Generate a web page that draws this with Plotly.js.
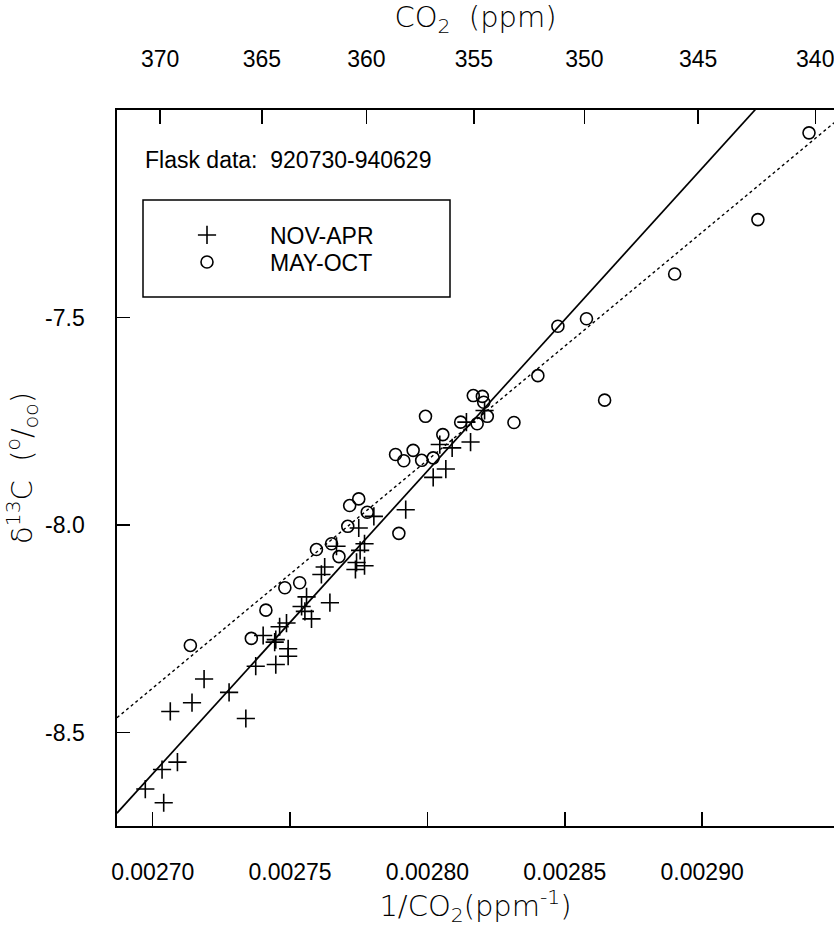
<!DOCTYPE html>
<html><head><meta charset="utf-8">
<script src="https://cdn.plot.ly/plotly-3.0.1.min.js"></script>
<style>html,body{margin:0;padding:0;background:#fff;} #chart{width:834px;height:931px;}</style>
</head><body><div id="chart"></div>
<script>
// NOV-APR flask samples (1/CO2 in ppm^-1, delta13C in per mil)
const novAprX = [0.0028142,0.0028208,0.0028045,0.0028090,0.0028157,0.0028067,0.0028021,0.0027921,0.0027805,0.0027750,
  0.0027771,0.0027755,0.0027742,0.0027771,0.0027738,0.0027669,0.0027626,0.0027614,0.0027560,0.0027645,
  0.0027542,0.0027554,0.0027578,0.0027487,0.0027462,0.0027402,0.0027448,0.0027444,0.0027493,0.0027493,
  0.0027448,0.0027375,0.0027187,0.0027278,0.0027143,0.0027064,0.0027339,0.0027090,0.0027034,0.0026973,0.0027040];
const novAprY = [-7.752,-7.724,-7.806,-7.814,-7.800,-7.865,-7.885,-7.963,-7.979,-8.007,
  -8.045,-8.061,-8.090,-8.098,-8.107,-8.051,-8.101,-8.119,-8.173,-8.187,
  -8.196,-8.208,-8.226,-8.236,-8.245,-8.266,-8.276,-8.282,-8.298,-8.316,
  -8.336,-8.340,-8.371,-8.403,-8.428,-8.449,-8.466,-8.571,-8.589,-8.636,-8.669];
// MAY-OCT flask samples
const mayOctX = [0.0029389,0.0029203,0.0028900,0.0028579,0.0028475,0.0028402,0.0028645,0.0028315,0.0028167,0.0028200,
  0.0028205,0.0027993,0.0028218,0.0028121,0.0028181,0.0028056,0.0027884,0.0027948,0.0027914,0.0027979,
  0.0028021,0.0027750,0.0027717,0.0027781,0.0027710,0.0027896,0.0027678,0.0027596,0.0027651,0.0027481,
  0.0027535,0.0027412,0.0027359,0.0027137];
const mayOctY = [-7.055,-7.264,-7.395,-7.503,-7.521,-7.640,-7.699,-7.753,-7.688,-7.690,
  -7.704,-7.738,-7.738,-7.752,-7.756,-7.782,-7.830,-7.820,-7.845,-7.844,
  -7.838,-7.937,-7.953,-7.969,-8.003,-8.020,-8.076,-8.059,-8.045,-8.151,
  -8.139,-8.205,-8.273,-8.290];
// fitted lines, read at the two plot edges
const fitX = [0.002687, 0.002948];
const fitNovAprY = [-8.694, -6.790];
const fitMayOctY = [-8.464, -7.031];
// axis ticks
const xTickVals = [0.00270, 0.00275, 0.00280, 0.00285, 0.00290];
const co2TickLabels = [370, 365, 360, 355, 350, 345, 340];
const yTickVals = [-8.5, -8.0, -7.5];
const yTickText = ['-8.5', '-8.0', '-7.5'];

const xRange = [0.002687, 0.002948];
const yRange = [-8.725, -7.0];
const tickFont = {family: 'Liberation Sans, Arial, sans-serif', size: 23, color: '#000'};
const titleFont = {family: 'DejaVu Sans, sans-serif', size: 29, color: '#000', weight: 200};

const traces = [
  {x: fitX, y: fitNovAprY, mode: 'lines', line: {color: '#000', width: 1.7}, showlegend: false, hoverinfo: 'skip'},
  {x: fitX, y: fitMayOctY, xaxis: 'x2', mode: 'lines', line: {color: '#000', width: 1.4, dash: 'dot'}, showlegend: false, hoverinfo: 'skip'},
  {x: novAprX, y: novAprY, mode: 'markers', name: 'NOV-APR', legend: 'legend',
   marker: {symbol: 'cross-thin-open', size: 13, color: '#000', line: {color: '#000', width: 1.6}}},
  {x: mayOctX, y: mayOctY, mode: 'markers', name: 'MAY-OCT', legend: 'legend2',
   marker: {symbol: 'circle-open', size: 12, color: '#000', line: {color: '#000', width: 1.6}}}
];

const P = (px) => (px - 117) / 717;
const Q = (py) => 1 - (py - 110) / 716;

const legendCommon = {bgcolor: 'rgba(0,0,0,0)', borderwidth: 0, font: {family: 'Liberation Sans, Arial, sans-serif', size: 23, color: '#000'},
  xanchor: 'left', yanchor: 'middle', itemwidth: 116, itemsizing: 'trace'};

const layout = {
  width: 834, height: 931,
  margin: {l: 117, r: 0, t: 110, b: 105, pad: 0},
  paper_bgcolor: '#fff', plot_bgcolor: '#fff',
  font: tickFont,
  showlegend: true,
  xaxis: {range: xRange, tickvals: xTickVals, tickformat: '.5f', ticks: 'inside', ticklen: 14, tickwidth: 1.5, tickcolor: '#000',
    showline: true, linecolor: '#000', linewidth: 2, showgrid: false, zeroline: false, ticklabelstandoff: 24, tickfont: tickFont,
    ticklabeloverflow: 'allow',
    title: {text: '1/CO<sub>2</sub>(ppm<sup>-1</sup>)', font: titleFont, standoff: 12}},
  xaxis2: {overlaying: 'x', side: 'top', anchor: 'y', range: xRange, tickvals: co2TickLabels.map(c => 1 / c), ticktext: co2TickLabels.map(String),
    ticks: 'inside', ticklen: 14, tickwidth: 1.5, tickcolor: '#000', showline: true, linecolor: '#000', linewidth: 2,
    showgrid: false, zeroline: false, ticklabelstandoff: 32, tickfont: tickFont, ticklabeloverflow: 'allow',
    title: {text: 'CO<sub>2</sub>  (ppm)', font: titleFont, standoff: 10}},
  yaxis: {range: yRange, tickvals: yTickVals, ticktext: yTickText, ticks: 'inside', ticklen: 13, tickwidth: 1.5, tickcolor: '#000',
    showline: true, linecolor: '#000', linewidth: 1.7, showgrid: false, zeroline: false, ticklabelstandoff: 26, tickfont: tickFont,
    ticklabeloverflow: 'allow',
    title: {text: 'δ<sup>13</sup>C  (<sup>o</sup>/<sub>oo</sub>)', font: titleFont, standoff: 4}},
  legend: Object.assign({x: P(144), y: Q(235)}, legendCommon),
  legend2: Object.assign({x: P(144), y: Q(262)}, legendCommon),
  shapes: [{type: 'rect', xref: 'paper', yref: 'paper', x0: P(143), x1: P(450), y0: Q(297), y1: Q(200), line: {color: '#000', width: 1.5}}],
  annotations: [{xref: 'paper', yref: 'paper', x: P(143), y: Q(160), xanchor: 'left', yanchor: 'middle', showarrow: false,
    text: 'Flask data:  920730-940629', font: {family: 'Liberation Sans, Arial, sans-serif', size: 23, color: '#000'}}]
};

Plotly.newPlot('chart', traces, layout, {displayModeBar: false, staticPlot: true});
</script></body></html>
